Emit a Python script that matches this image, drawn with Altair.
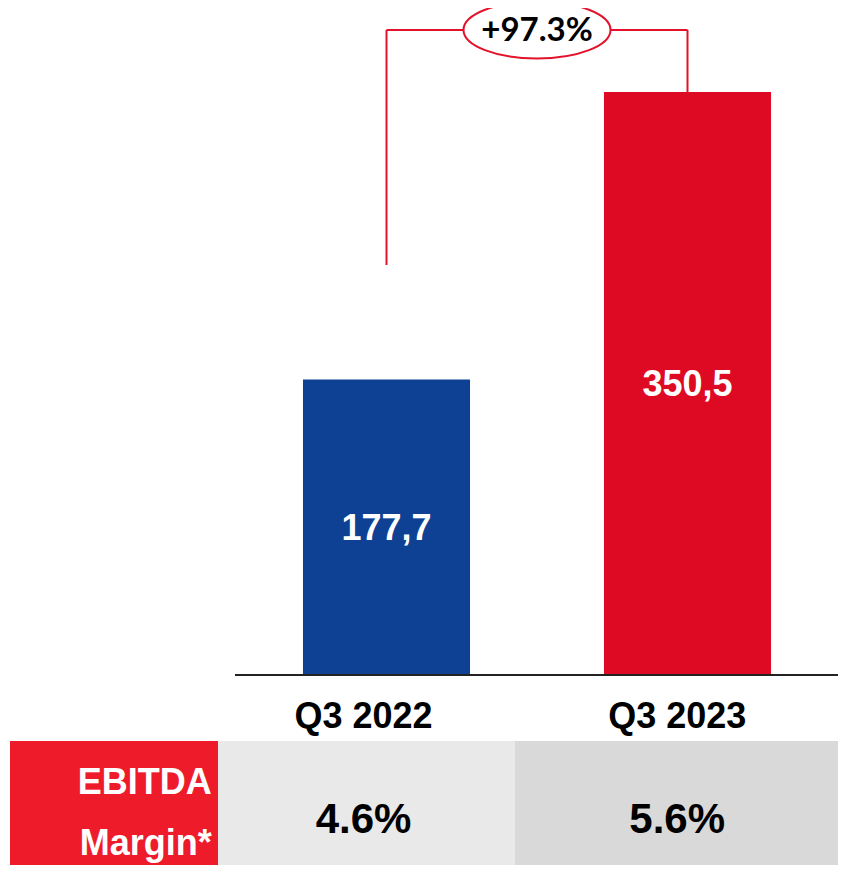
import altair as alt
import pandas as pd

# ---------------- data ----------------
quarters = ["Q3 2022", "Q3 2023"]
ebitda = [177.7, 350.5]
growth_label = "+97.3%"
margins = [4.6, 5.6]
row_title = ["EBITDA", "Margin*"]

# ---------------- layout ----------------
W, H = 830, 857
BASE = 667                      # baseline pixel inside the view
Y_MAX = 401.0                   # value at the top of the view
PAD_IN, PAD_OUT = 0.445, 0.2225
X_RANGE = [228, 830]
STEP = (X_RANGE[1] - X_RANGE[0]) / (len(quarters) - PAD_IN + 2 * PAD_OUT)
BRACKET_TOP = 387.8             # in value units
LEFT_LEG_START = 246.5          # in value units

X_BARS = alt.Scale(domain=quarters, range=X_RANGE, paddingInner=PAD_IN, paddingOuter=PAD_OUT)
Y_VAL = alt.Scale(domain=[0, Y_MAX], range=[BASE, 0])
X_TAB = alt.Scale(domain=[0, 1, 2, 3], range=[2, 210, 507, 838])
Y_TAB = alt.Scale(domain=[0, 1], range=[733, 865])

BAR_COLORS = ["#0E4194", "#DE0A24"]
LINE_RED = "#E3122A"
FONT = "Liberation Sans"

bars_df = pd.DataFrame({"quarter": quarters, "value": ebitda})

bars = alt.Chart(bars_df).mark_bar().encode(
    x=alt.X("quarter:N", scale=X_BARS, axis=None),
    y=alt.Y("value:Q", scale=Y_VAL, axis=None),
    color=alt.Color("quarter:N", scale=alt.Scale(domain=quarters, range=BAR_COLORS), legend=None),
)

bar_labels = alt.Chart(bars_df).transform_calculate(
    label="replace(format(datum.value, '.1f'), '.', ',')",
    mid="datum.value / 2",
).mark_text(font=FONT, fontSize=36, fontWeight="bold", color="white", baseline="middle", dy=2).encode(
    x=alt.X("quarter:N", scale=X_BARS, axis=None),
    y=alt.Y("mid:Q", scale=Y_VAL, axis=None),
    text="label:N",
)

baseline = alt.Chart(pd.DataFrame({"v": [0]})).mark_rule(color="#222222", strokeWidth=2).encode(
    y=alt.Y("v:Q", scale=Y_VAL, axis=None),
    x=alt.value(227),
    x2=alt.value(831),
)

left_leg = alt.Chart(pd.DataFrame({"quarter": [quarters[0]], "y0": [LEFT_LEG_START], "y1": [BRACKET_TOP]})).mark_rule(
    color=LINE_RED, strokeWidth=2).encode(
    x=alt.X("quarter:N", scale=X_BARS, axis=None),
    y=alt.Y("y0:Q", scale=Y_VAL, axis=None),
    y2="y1:Q",
)
right_leg = alt.Chart(pd.DataFrame({"quarter": [quarters[1]], "y0": [ebitda[1]], "y1": [BRACKET_TOP]})).mark_rule(
    color=LINE_RED, strokeWidth=2).encode(
    x=alt.X("quarter:N", scale=X_BARS, axis=None),
    y=alt.Y("y0:Q", scale=Y_VAL, axis=None),
    y2="y1:Q",
)
top_bar = alt.Chart(pd.DataFrame({"q0": [quarters[0]], "q1": [quarters[1]], "y": [BRACKET_TOP]})).mark_rule(
    color=LINE_RED, strokeWidth=2).encode(
    x=alt.X("q0:N", scale=X_BARS, axis=None),
    x2="q1:N",
    y=alt.Y("y:Q", scale=Y_VAL, axis=None),
)

ELLIPSE = "M -1 0 A 1 0.388 0 1 1 1 0 A 1 0.388 0 1 1 -1 0 Z"
growth_df = pd.DataFrame({"quarter": [quarters[0]], "y": [BRACKET_TOP], "label": [growth_label]})
ellipse = alt.Chart(growth_df).mark_point(
    shape=ELLIPSE, size=147 ** 2, filled=True, fill="white", stroke=LINE_RED, strokeWidth=2, opacity=1
).encode(
    x=alt.X("quarter:N", scale=X_BARS, axis=None),
    xOffset=alt.value(STEP / 2),
    y=alt.Y("y:Q", scale=Y_VAL, axis=None),
)
growth_text = alt.Chart(growth_df).mark_text(
    font="Lato", fontSize=33, fontWeight="bold", color="black", baseline="middle", dy=1, dx=STEP / 2
).encode(
    x=alt.X("quarter:N", scale=X_BARS, axis=None),
    y=alt.Y("y:Q", scale=Y_VAL, axis=None),
    text="label:N",
)

# ---------------- table ----------------
cells_df = pd.DataFrame({
    "x0": [0, 1, 2], "x1": [1, 2, 3], "y0": [0, 0, 0], "y1": [1, 1, 1],
    "fill": ["#EE1C2B", "#E9E9E9", "#D9D9D9"],
})
cells = alt.Chart(cells_df).mark_rect().encode(
    x=alt.X("x0:Q", scale=X_TAB, axis=None),
    x2="x1:Q",
    y=alt.Y("y0:Q", scale=Y_TAB, axis=None),
    y2="y1:Q",
    color=alt.Color("fill:N", scale=None),
)

cat_df = pd.DataFrame({"col": [1.49, 2.49], "row": [-0.0985, -0.0985], "label": quarters})
cat_labels = alt.Chart(cat_df).mark_text(
    font=FONT, fontSize=36, fontWeight="bold", color="black", baseline="alphabetic"
).encode(
    x=alt.X("col:Q", scale=X_TAB, axis=None),
    y=alt.Y("row:Q", scale=Y_TAB, axis=None),
    text="label:N",
)

title_df = pd.DataFrame({"col": [0.97, 0.97], "row": [0.40, 0.866], "label": row_title})
title_text = alt.Chart(title_df).mark_text(
    font=FONT, fontSize=36, fontWeight="bold", color="white", baseline="alphabetic", align="right"
).encode(
    x=alt.X("col:Q", scale=X_TAB, axis=None),
    y=alt.Y("row:Q", scale=Y_TAB, axis=None),
    text="label:N",
)

marg_df = pd.DataFrame({"col": [1.49, 2.49], "row": [0.697, 0.697], "value": margins})
marg_text = alt.Chart(marg_df).transform_calculate(
    label="format(datum.value, '.1f') + '%'"
).mark_text(
    font=FONT, fontSize=42, fontWeight="bold", color="black", baseline="alphabetic"
).encode(
    x=alt.X("col:Q", scale=X_TAB, axis=None),
    y=alt.Y("row:Q", scale=Y_TAB, axis=None),
    text="label:N",
)

chart = alt.layer(
    cells, bars, bar_labels, baseline, left_leg, right_leg, top_bar, ellipse, growth_text,
    cat_labels, title_text, marg_text,
).resolve_scale(
    x="independent", y="independent", color="independent"
).properties(
    width=W, height=H, autosize=alt.AutoSizeParams(type="none"), padding=0,
).configure_view(stroke=None, clip=False)

chart.save("out.html", embed_options={"renderer": "svg", "actions": False})
